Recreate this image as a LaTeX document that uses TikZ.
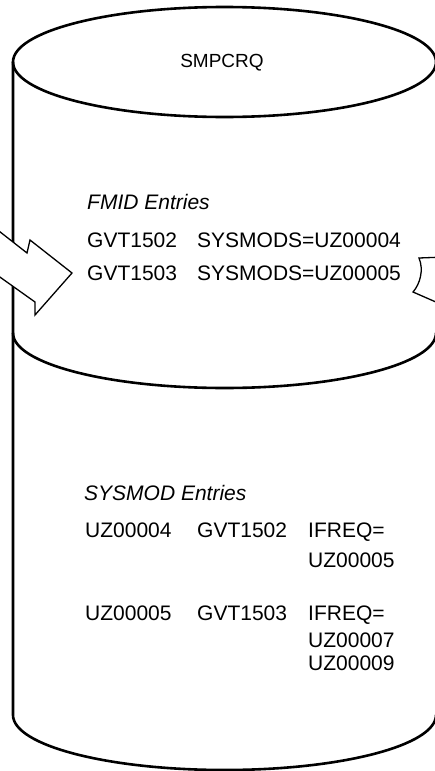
\documentclass[tikz,border=0pt]{standalone}
\usepackage{fontspec}
\setmainfont{Liberation Sans}
\usepackage{tikz}

\begin{document}
\begin{tikzpicture}[
    x=1pt, y=-1pt,
    drum/.style={line width=2.6pt, line cap=round, line join=round},
    bolt/.style={draw, fill=white, line width=1.3pt, line join=miter},
    txt/.style={inner sep=0pt, anchor=base west, font=\fontsize{21}{25}\selectfont},
    head/.style={txt, font=\fontsize{21}{25}\selectfont\itshape}
  ]
    \useasboundingbox (0,0) rectangle (435,771);
    % data set drawn as a cylinder
    \draw[drum] (224.5,62) ellipse [x radius=211.5, y radius=55];
    \draw[drum] (13,333) arc [start angle=180, end angle=0, x radius=211.5, y radius=55];
    \draw[drum] (13,62) -- (13,715) arc [start angle=180, end angle=0, x radius=211.5, y radius=55];
    % flow in and out
    \draw[bolt] (-10,224) -- (27,253) -- (30,240) -- (72,273) -- (35,315) -- (35,302) -- (-10,270) -- cycle;
    \draw[bolt] (445,257) -- (419,258) .. controls (424,270) and (420,284) .. (413,292) -- (445,306) -- cycle;
    \node[txt, anchor=base, font=\fontsize{19}{23}\selectfont] (zone) at (222,67) {SMPCRQ};
    \node[head] (fmidhead) at (87,209) {FMID Entries};
    \node[txt] (fmid1) at (87,247) {GVT1502};
    \node[txt] (mods1) at (197,247) {SYSMODS=UZ00004};
    \node[txt] (fmid2) at (87,280) {GVT1503};
    \node[txt] (mods2) at (197,280) {SYSMODS=UZ00005};
    \node[head] (modhead) at (84,500) {SYSMOD Entries};
    \node[txt] (sys1) at (85,537) {UZ00004};
    \node[txt] (fm1) at (197,537) {GVT1502};
    \node[txt] (req1) at (308,537) {IFREQ=};
    \node[txt] (req1a) at (308,567) {UZ00005};
    \node[txt] (sys2) at (85,620) {UZ00005};
    \node[txt] (fm2) at (197,620) {GVT1503};
    \node[txt] (req2) at (308,620) {IFREQ=};
    \node[txt] (req2a) at (308,647) {UZ00007};
    \node[txt] (req2b) at (308,670) {UZ00009};
  \end{tikzpicture}
\end{document}
